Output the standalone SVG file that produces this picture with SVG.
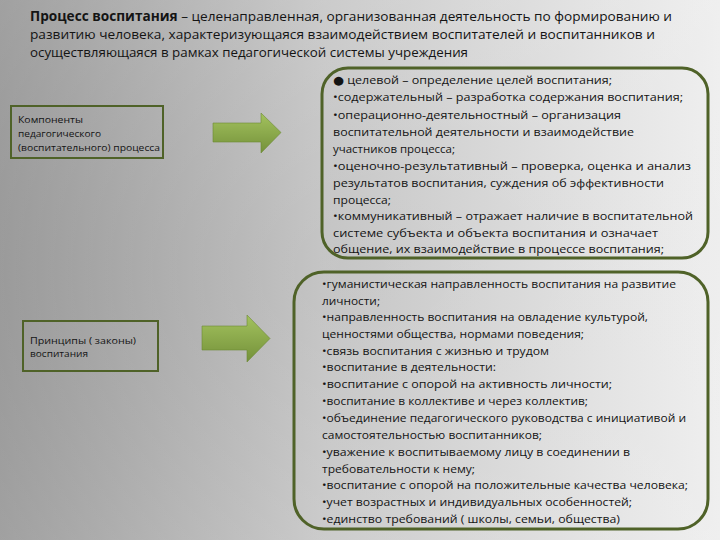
<svg xmlns="http://www.w3.org/2000/svg" width="720" height="540" viewBox="0 0 720 540">
<defs>
<linearGradient id="bg" x1="0" y1="0" x2="1" y2="0">
<stop offset="0" stop-color="#8c8c8c"/>
<stop offset="0.45" stop-color="#c4c4c4"/>
<stop offset="1" stop-color="#ececec"/>
</linearGradient>
<radialGradient id="bgv" cx="0.5" cy="0.5" r="0.7">
<stop offset="0" stop-color="#ffffff" stop-opacity="0"/>
<stop offset="1" stop-color="#ffffff" stop-opacity="0.18"/>
</radialGradient>
<linearGradient id="arr" x1="0" y1="0" x2="0" y2="1">
<stop offset="0" stop-color="#a3c25e"/>
<stop offset="1" stop-color="#74913a"/>
</linearGradient>
<style>
.t{font-family:"Open Sans","Noto Sans","DejaVu Sans",sans-serif;fill:#141414}
.title{font-size:13.5px}
.b{font-weight:bold}
.list{font-size:11.5px}
.small{font-size:9.5px}
.big{fill:none;stroke:#4f6228;stroke-width:3}
.sq{fill:none;stroke:#4f6228;stroke-width:2}
.arrow{fill:url(#arr);stroke:#6b8a34;stroke-width:0.6}
</style>
</defs>
<rect width="720" height="540" fill="url(#bg)"/>
<rect width="720" height="540" fill="url(#bgv)"/>

<g id="title">
<text class="t title" x="30" y="21" textLength="642" lengthAdjust="spacingAndGlyphs"><tspan class="b">Процесс воспитания</tspan> – целенаправленная, организованная деятельность  по формированию и</text>
<text class="t title" x="30" y="39" textLength="625" lengthAdjust="spacingAndGlyphs">развитию человека, характеризующаяся взаимодействием воспитателей и воспитанников и</text>
<text class="t title" x="30" y="57" textLength="438" lengthAdjust="spacingAndGlyphs">осуществляющаяся в рамках педагогической системы учреждения</text>
</g>

<g id="components">
<rect class="sq" x="11" y="106" width="152" height="52"/>
<text class="t small" x="18" y="123" textLength="65" lengthAdjust="spacingAndGlyphs">Компоненты</text>
<text class="t small" x="18" y="137" textLength="83" lengthAdjust="spacingAndGlyphs">педагогического</text>
<text class="t small" x="18" y="151" textLength="142" lengthAdjust="spacingAndGlyphs">(воспитательного) процесса</text>
</g>

<g id="principles">
<rect class="sq" x="23" y="321" width="135" height="50"/>
<text class="t small" x="30" y="344" textLength="106" lengthAdjust="spacingAndGlyphs">Принципы ( законы)</text>
<text class="t small" x="30" y="357" textLength="58" lengthAdjust="spacingAndGlyphs">воспитания</text>
</g>

<g id="components-list">
<rect class="big" x="322" y="68" width="386" height="190" rx="26" ry="26"/>
<g class="t list">
<text x="333" y="84" textLength="279" lengthAdjust="spacingAndGlyphs">● целевой – определение целей воспитания;</text>
<text x="333" y="101" textLength="350" lengthAdjust="spacingAndGlyphs">•содержательный – разработка содержания воспитания;</text>
<text x="333" y="118.5" textLength="288" lengthAdjust="spacingAndGlyphs">•операционно-деятельностный – организация</text>
<text x="333" y="135.5" textLength="301" lengthAdjust="spacingAndGlyphs">воспитательной деятельности и взаимодействие</text>
<text x="333" y="152.5" textLength="122" lengthAdjust="spacingAndGlyphs">участников процесса;</text>
<text x="333" y="170" textLength="358" lengthAdjust="spacingAndGlyphs">•оценочно-результативный – проверка, оценка и анализ</text>
<text x="333" y="187" textLength="331" lengthAdjust="spacingAndGlyphs">результатов воспитания, суждения об эффективности</text>
<text x="333" y="204" textLength="58" lengthAdjust="spacingAndGlyphs">процесса;</text>
<text x="333" y="220" textLength="360" lengthAdjust="spacingAndGlyphs">•коммуникативный – отражает наличие в воспитательной</text>
<text x="333" y="237" textLength="325" lengthAdjust="spacingAndGlyphs">системе субъекта и объекта воспитания и означает</text>
<text x="333" y="253" textLength="331" lengthAdjust="spacingAndGlyphs">общение, их взаимодействие в процессе воспитания;</text>
</g>
</g>

<g id="principles-list">
<rect class="big" x="294" y="272" width="414" height="257" rx="30" ry="30"/>
<g class="t list">
<text x="322" y="288" textLength="354" lengthAdjust="spacingAndGlyphs">•гуманистическая направленность воспитания на развитие</text>
<text x="322" y="304.5" textLength="58" lengthAdjust="spacingAndGlyphs">личности;</text>
<text x="322" y="321" textLength="326" lengthAdjust="spacingAndGlyphs">•направленность воспитания на овладение культурой,</text>
<text x="322" y="338" textLength="262" lengthAdjust="spacingAndGlyphs">ценностями общества, нормами поведения;</text>
<text x="322" y="354.5" textLength="227" lengthAdjust="spacingAndGlyphs">•связь воспитания с жизнью и трудом</text>
<text x="322" y="371" textLength="174" lengthAdjust="spacingAndGlyphs">•воспитание в деятельности:</text>
<text x="322" y="388" textLength="290" lengthAdjust="spacingAndGlyphs">•воспитание с опорой на активность личности;</text>
<text x="322" y="404.5" textLength="266" lengthAdjust="spacingAndGlyphs">•воспитание в коллективе и через коллектив;</text>
<text x="322" y="422" textLength="364" lengthAdjust="spacingAndGlyphs">•объединение педагогического руководства с инициативой и</text>
<text x="322" y="439" textLength="220" lengthAdjust="spacingAndGlyphs">самостоятельностью воспитанников;</text>
<text x="322" y="456" textLength="308" lengthAdjust="spacingAndGlyphs">•уважение к воспитываемому лицу в соединении в</text>
<text x="322" y="472.5" textLength="153" lengthAdjust="spacingAndGlyphs">требовательности к нему;</text>
<text x="322" y="489" textLength="366" lengthAdjust="spacingAndGlyphs">•воспитание с опорой на положительные качества человека;</text>
<text x="322" y="506" textLength="310" lengthAdjust="spacingAndGlyphs">•учет возрастных и индивидуальных особенностей;</text>
<text x="322" y="523" textLength="298" lengthAdjust="spacingAndGlyphs">•единство требований ( школы, семьи, общества)</text>
</g>
</g>

<g id="connectors">
<polygon class="arrow" points="213,123 261,123 261,113 281,132.5 261,153 261,142 213,142"/>
<polygon class="arrow" points="202,326 247,326 247,315 270,338.5 247,362 247,350 202,350"/>
</g>
</svg>
